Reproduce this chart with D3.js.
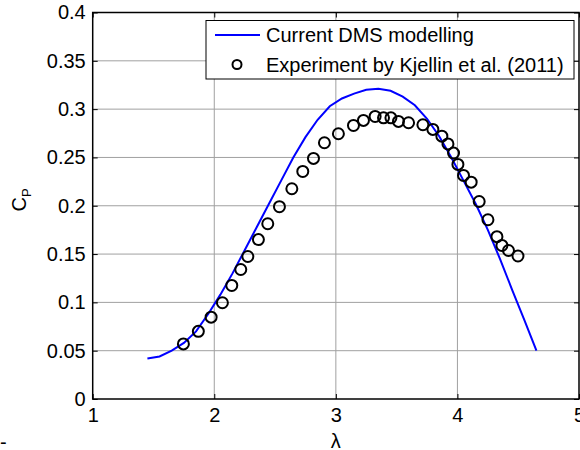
<!DOCTYPE html>
<html><head><meta charset="utf-8">
<script src="https://cdn.jsdelivr.net/npm/d3@7"></script>
<style>body{margin:0;background:#fff}svg{display:block}text{font-family:Arial,"Liberation Sans",sans-serif}</style>
</head><body>
<script>
// Model line (Current DMS modelling)
const lineLambda = [1.45,1.55,1.65,1.75,1.85,1.95,2.05,2.15,2.25,2.35,2.45,2.55,2.65,2.75,2.85,2.95,3.05,3.15,3.25,3.35,3.45,3.55,3.65,3.75,3.85,3.95,4.05,4.15,4.25,4.35,4.45,4.55,4.65];
const lineCp     = [0.042,0.044,0.050,0.058,0.070,0.088,0.108,0.130,0.154,0.178,0.202,0.226,0.250,0.271,0.289,0.303,0.311,0.316,0.320,0.321,0.319,0.313,0.304,0.290,0.272,0.250,0.226,0.202,0.175,0.145,0.113,0.082,0.050];
// Experiment (Kjellin et al. 2011)
const expLambda = [1.746,1.869,1.974,2.067,2.144,2.218,2.276,2.363,2.44,2.536,2.638,2.728,2.816,2.906,3.021,3.145,3.227,3.323,3.392,3.453,3.515,3.598,3.716,3.798,3.872,3.922,3.968,4.004,4.05,4.113,4.179,4.251,4.325,4.366,4.42,4.498];
const expCp     = [0.057,0.070,0.0847,0.0996,0.1175,0.134,0.1475,0.165,0.1814,0.199,0.2176,0.2355,0.249,0.2652,0.2745,0.2831,0.2883,0.2924,0.291,0.291,0.2873,0.2859,0.2838,0.279,0.272,0.264,0.2545,0.2428,0.2314,0.2244,0.2044,0.1855,0.168,0.1589,0.1537,0.148];
const xTicks = [1,2,3,4,5];
const yTicks = [0,0.05,0.1,0.15,0.2,0.25,0.3,0.35,0.4];
const legendLabels = ["Current DMS modelling","Experiment by Kjellin et al. (2011)"];

const W=580,H=450;
const L=92.7,R=579,T=12.5,B=399;
const svg=d3.select("body").append("svg").attr("width",W).attr("height",H);
const x=d3.scaleLinear().domain([1,5]).range([L,R]);
const y=d3.scaleLinear().domain([0,0.4]).range([B,T]);
const fs=20;

// grid
const g=svg.append("g");
g.selectAll(".gx").data(xTicks.slice(1,-1)).join("line")
 .attr("x1",d=>x(d)).attr("x2",d=>x(d)).attr("y1",T).attr("y2",B)
 .attr("stroke","#a0a0a0").attr("stroke-width",1);
g.selectAll(".gy").data(yTicks.slice(1,-1)).join("line")
 .attr("y1",d=>y(d)).attr("y2",d=>y(d)).attr("x1",L).attr("x2",R)
 .attr("stroke","#a0a0a0").attr("stroke-width",1);

// axes with inward ticks
const axB=d3.axisBottom(x).tickValues(xTicks).tickSize(-5).tickPadding(9).tickFormat(d3.format("d"));
const axL=d3.axisLeft(y).tickValues(yTicks).tickSize(-5).tickPadding(7).tickFormat(d=>d===0?"0":String(d).replace(/^0(?=\.)/,"0"));
const axT=d3.axisTop(x).tickValues(xTicks).tickSize(-5).tickFormat("");
const axR=d3.axisRight(y).tickValues(yTicks).tickSize(-5).tickFormat("");
function style(sel){sel.select(".domain").remove();sel.selectAll(".tick line").attr("stroke","#000");sel.selectAll("text").attr("font-size",fs).attr("fill","#000").attr("font-family","Arial, 'Liberation Sans', sans-serif");}
svg.append("g").attr("transform",`translate(0,${B})`).call(axB).call(style);
svg.append("g").attr("transform",`translate(${L},0)`).call(axL).call(style);
svg.append("g").attr("transform",`translate(0,${T})`).call(axT).call(style);
svg.append("g").attr("transform",`translate(${R},0)`).call(axR).call(style);
svg.append("rect").attr("x",L).attr("y",T).attr("width",R-L).attr("height",B-T)
 .attr("fill","none").attr("stroke","#000").attr("stroke-width",1.5);

// line
const pts=lineLambda.map((d,i)=>[d,lineCp[i]]);
svg.append("path").datum(pts)
 .attr("d",d3.line().x(d=>x(d[0])).y(d=>y(d[1])))
 .attr("fill","none").attr("stroke","#0000ff").attr("stroke-width",2);

// markers
svg.append("g").selectAll("circle").data(expLambda.map((d,i)=>[d,expCp[i]])).join("circle")
 .attr("cx",d=>x(d[0])).attr("cy",d=>y(d[1])).attr("r",5.5)
 .attr("fill","none").attr("stroke","#000").attr("stroke-width",2);

// legend
const lg=svg.append("g");
lg.append("rect").attr("x",206).attr("y",20.5).attr("width",368).attr("height",58.5)
 .attr("fill","#fff").attr("stroke","#000").attr("stroke-width",1);
lg.append("line").attr("x1",215).attr("x2",260).attr("y1",35).attr("y2",35)
 .attr("stroke","#0000ff").attr("stroke-width",2);
lg.append("circle").attr("cx",237).attr("cy",64.5).attr("r",4.5)
 .attr("fill","none").attr("stroke","#000").attr("stroke-width",2);
lg.selectAll("text").data(legendLabels).join("text")
 .attr("x",266).attr("y",(d,i)=>35+i*29.5).attr("dy","0.35em")
 .attr("font-size",fs).text(d=>d);

// labels
svg.append("text").attr("x",x(3)).attr("y",441).attr("dy","0.35em").attr("text-anchor","middle")
 .attr("font-size",fs).text("λ");
const yl=svg.append("text").attr("transform","translate(26,200) rotate(-90)").attr("text-anchor","middle").attr("font-size",fs);
yl.append("tspan").text("C");
yl.append("tspan").attr("font-size",13).attr("dy",5).text("P");
svg.append("text").attr("x",0).attr("y",449).attr("font-size",fs).text("-");
</script>
</body></html>
